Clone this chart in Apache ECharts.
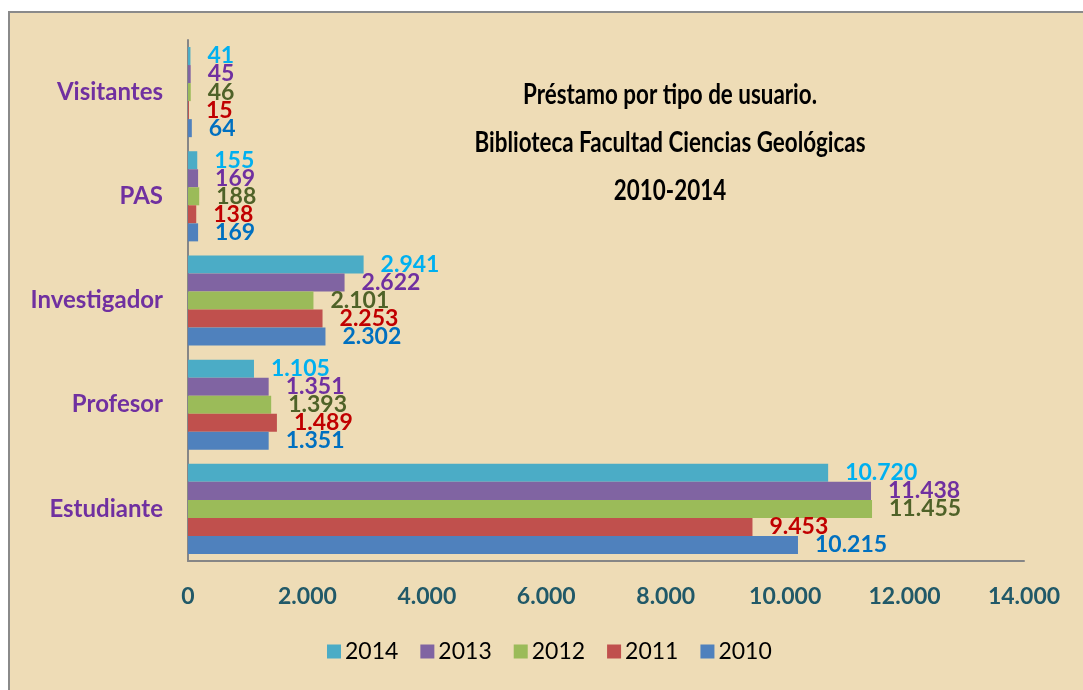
<!DOCTYPE html>
<html>
<head>
<meta charset="utf-8">
<script src="https://cdn.jsdelivr.net/npm/echarts@6/dist/echarts.min.js"></script>
<style>
html,body{margin:0;padding:0;background:#fff;}
#chart{width:1083px;height:690px;}
</style>
</head>
<body>
<div id="chart"></div>
<script>
const categories = ['Estudiante', 'Profesor', 'Investigador', 'PAS', 'Visitantes'];
const years = ['2014', '2013', '2012', '2011', '2010'];
const values2014 = [10720, 1105, 2941, 155, 41];
const values2013 = [11438, 1351, 2622, 169, 45];
const values2012 = [11455, 1393, 2101, 188, 46];
const values2011 = [9453, 1489, 2253, 138, 15];
const values2010 = [10215, 1351, 2302, 169, 64];
const xTicks = [0, 2000, 4000, 6000, 8000, 10000, 12000, 14000];
const legendOrder = ['2014', '2013', '2012', '2011', '2010'];
const titleText = 'Préstamo por tipo de usuario.\nBiblioteca Facultad Ciencias Geológicas\n2010-2014';

const seriesValues = [values2014, values2013, values2012, values2011, values2010];
const barColors = ['#4bacc6', '#8064a2', '#9bbb59', '#c0504d', '#4f81bd'];
const labelColors = ['#00b0f0', '#7030a0', '#4f6228', '#c00000', '#0070c0'];

function fmt(v) {
  return String(v).replace(/\B(?=(\d{3})+(?!\d))/g, '.');
}

const chart = echarts.init(document.getElementById('chart'));
const option = {
  backgroundColor: '#ffffff',
  animation: false,
  graphic: [{
    type: 'rect',
    left: 8, top: 11, z: -10,
    shape: {width: 1100, height: 700},
    style: {fill: '#eedcb6', stroke: '#8a8a8a', lineWidth: 2}
  }, {
    type: 'text',
    x: 670, y: 143, z: 10,
    scaleX: 0.8,
    style: {
      text: titleText,
      textAlign: 'center', textVerticalAlign: 'middle',
      fontFamily: 'Lato', fontWeight: 'bold', fontSize: 28,
      lineHeight: 48, fill: '#000'
    }
  }],
  legend: {
    data: legendOrder,
    left: 322, top: 635,
    itemWidth: 14, itemHeight: 14, itemGap: 22,
    icon: 'rect',
    textStyle: {fontFamily: 'Lato', fontSize: 23, color: '#000', padding: [0,0,0,-1]}
  },
  grid: {left: 188, right: 59, top: 40, bottom: 129, containLabel: false},
  xAxis: {
    type: 'value',
    min: xTicks[0], max: xTicks[xTicks.length - 1], interval: 2000,
    axisLine: {show: true, lineStyle: {color: '#868686', width: 2}},
    axisTick: {show: false},
    splitLine: {show: false},
    axisLabel: {
      margin: 24,
      fontFamily: 'Lato', fontWeight: 'bold', fontSize: 23, color: '#215968',
      formatter: v => fmt(v)
    }
  },
  yAxis: {
    type: 'category',
    data: categories,
    axisLine: {show: true, lineStyle: {color: '#868686', width: 2}},
    axisTick: {show: false},
    axisLabel: {
      margin: 25,
      fontFamily: 'Lato', fontWeight: 'bold', fontSize: 24, color: '#7030a0'
    }
  },
  series: years.map((y, i) => ({
    name: y,
    type: 'bar',
    data: seriesValues[i],
    barGap: '0%',
    barCategoryGap: '13.5%',
    itemStyle: {color: barColors[i]},
    label: {
      show: true, position: 'right', distance: 17,
      fontFamily: 'Lato', fontWeight: 'bold', fontSize: 23,
      color: labelColors[i],
      formatter: p => fmt(p.value)
    }
  }))
};
chart.setOption(option);
</script>
</body>
</html>
